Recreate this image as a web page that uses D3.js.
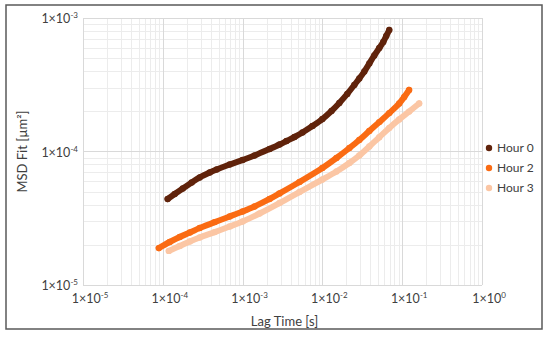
<!DOCTYPE html>
<html>
<head>
<meta charset="utf-8">
<title>MSD fit</title>
<style>
body { margin: 0; background: #fff; }
svg { display: block; font-family: Lato, 'Open Sans', sans-serif; }
.frame { fill: none; stroke: #595959; stroke-width: 1.5px; }
.major { stroke: #d9d9d9; stroke-width: 1px; shape-rendering: crispEdges; }
.minor { stroke: #ececec; stroke-width: 1px; shape-rendering: crispEdges; }
.tick { font-size: 12.5px; fill: #404040; }
.title { font-size: 13px; fill: #404040; }
.leg { font-size: 12px; fill: #404040; }
</style>
</head>
<body>
<script src="https://cdn.jsdelivr.net/npm/d3@7"></script>
<script>
'use strict';
// values
const seriesNames = ['Hour 0', 'Hour 2', 'Hour 3'];
const seriesColors = ['#60230b', '#fa6b13', '#fbc6a4'];

const hour0Lag = [1.15e-4, 1.41e-4, 1.78e-4, 2.30e-4, 2.90e-4, 3.87e-4, 4.73e-4, 6.88e-4, 1.00e-3, 1.41e-3, 2.18e-3, 2.90e-3, 3.55e-3, 4.47e-3, 5.62e-3, 7.50e-3, 1.00e-2, 1.30e-2, 1.63e-2, 2.05e-2, 2.51e-2, 2.90e-2, 3.35e-2, 3.87e-2, 4.47e-2, 5.16e-2, 5.79e-2, 6.31e-2, 6.88e-2];
const hour0Msd = [4.41e-5, 4.80e-5, 5.28e-5, 5.86e-5, 6.39e-5, 6.96e-5, 7.33e-5, 7.99e-5, 8.64e-5, 9.33e-5, 1.044e-4, 1.128e-4, 1.198e-4, 1.284e-4, 1.388e-4, 1.552e-4, 1.751e-4, 2.01e-4, 2.31e-4, 2.70e-4, 3.15e-4, 3.52e-4, 3.97e-4, 4.56e-4, 5.24e-4, 5.96e-4, 6.61e-4, 7.33e-4, 8.13e-4];

const hour2Lag = [8.91e-5, 1.22e-4, 1.63e-4, 2.18e-4, 2.90e-4, 4.47e-4, 6.88e-4, 1.00e-3, 1.41e-3, 2.18e-3, 2.90e-3, 5.16e-3, 1.00e-2, 1.50e-2, 2.18e-2, 2.90e-2, 3.87e-2, 5.16e-2, 6.88e-2, 9.17e-2, 1.06e-1, 1.22e-1];
const hour2Msd = [1.89e-5, 2.10e-5, 2.29e-5, 2.47e-5, 2.67e-5, 2.96e-5, 3.26e-5, 3.55e-5, 3.87e-5, 4.41e-5, 4.85e-5, 5.91e-5, 7.52e-5, 8.94e-5, 1.062e-4, 1.22e-4, 1.424e-4, 1.66e-4, 1.94e-4, 2.29e-4, 2.56e-4, 2.89e-4];

const hour3Lag = [1.19e-4, 1.63e-4, 2.18e-4, 2.90e-4, 4.47e-4, 6.88e-4, 1.00e-3, 1.63e-3, 2.90e-3, 5.16e-3, 1.00e-2, 1.50e-2, 2.18e-2, 2.90e-2, 3.87e-2, 5.16e-2, 6.88e-2, 9.17e-2, 1.22e-1, 1.63e-1];
const hour3Msd = [1.80e-5, 1.96e-5, 2.12e-5, 2.27e-5, 2.49e-5, 2.74e-5, 2.99e-5, 3.43e-5, 4.11e-5, 4.97e-5, 6.17e-5, 7.08e-5, 8.20e-5, 9.33e-5, 1.09e-4, 1.28e-4, 1.50e-4, 1.74e-4, 1.99e-4, 2.29e-4];

const xTicks = [1e-5, 1e-4, 1e-3, 1e-2, 1e-1, 1e0];
const yTicks = [1e-5, 1e-4, 1e-3];

const series = [
	{name: seriesNames[0], color: seriesColors[0], pts: hour0Lag.map((t, i) => [t, hour0Msd[i]])},
	{name: seriesNames[1], color: seriesColors[1], pts: hour2Lag.map((t, i) => [t, hour2Msd[i]])},
	{name: seriesNames[2], color: seriesColors[2], pts: hour3Lag.map((t, i) => [t, hour3Msd[i]])}
];

const W = 550, H = 337;
const plot = {left: 83, top: 18, right: 482, bottom: 285};

const x = d3.scaleLog().domain([1e-5, 1]).range([plot.left, plot.right]);
const y = d3.scaleLog().domain([1e-5, 1e-3]).range([plot.bottom, plot.top]);

const svg = d3.select('body').append('svg')
	.attr('width', W)
	.attr('height', H);

svg.append('rect')
	.attr('class', 'frame')
	.attr('x', 6).attr('y', 5)
	.attr('width', 536).attr('height', 324);

// minor grid (2..9 in each decade)
const xMinor = x.ticks().filter(v => xTicks.indexOf(v) < 0);
const yMinor = y.ticks().filter(v => yTicks.indexOf(v) < 0);

const grid = svg.append('g');
grid.selectAll('.xm').data(xMinor).enter().append('line')
	.attr('class', 'minor')
	.attr('x1', d => Math.round(x(d)) + 0.5).attr('x2', d => Math.round(x(d)) + 0.5)
	.attr('y1', plot.top).attr('y2', plot.bottom);
grid.selectAll('.ym').data(yMinor).enter().append('line')
	.attr('class', 'minor')
	.attr('y1', d => Math.round(y(d)) + 0.5).attr('y2', d => Math.round(y(d)) + 0.5)
	.attr('x1', plot.left).attr('x2', plot.right);
grid.selectAll('.xM').data(xTicks).enter().append('line')
	.attr('class', 'major')
	.attr('x1', d => Math.round(x(d)) + 0.5).attr('x2', d => Math.round(x(d)) + 0.5)
	.attr('y1', plot.top).attr('y2', plot.bottom);
grid.selectAll('.yM').data(yTicks).enter().append('line')
	.attr('class', 'major')
	.attr('y1', d => Math.round(y(d)) + 0.5).attr('y2', d => Math.round(y(d)) + 0.5)
	.attr('x1', plot.left).attr('x2', plot.right);

// tick label like 1×10^-3
function expLabel(sel, v) {
	const e = Math.round(Math.log10(v));
	sel.append('tspan').text('1×10');
	sel.append('tspan').attr('dy', -5).style('font-size', '8px').text(String(e));
}

svg.selectAll('.xt').data(xTicks).enter().append('text')
	.attr('class', 'tick')
	.attr('x', d => x(d) + 7)
	.attr('y', 303)
	.attr('text-anchor', 'middle')
	.each(function(d) { expLabel(d3.select(this), d); });

svg.selectAll('.yt').data(yTicks).enter().append('text')
	.attr('class', 'tick')
	.attr('x', 78)
	.attr('y', d => y(d) + 5)
	.attr('text-anchor', 'end')
	.each(function(d) { expLabel(d3.select(this), d); });

// axis titles
svg.append('text')
	.attr('class', 'title')
	.attr('x', (plot.left + plot.right) / 2 + 2)
	.attr('y', 326)
	.attr('text-anchor', 'middle')
	.text('Lag Time [s]');

svg.append('text')
	.attr('class', 'title')
	.attr('transform', 'translate(27,' + (plot.top + plot.bottom) / 2 + ') rotate(-90)')
	.attr('text-anchor', 'middle')
	.text('MSD Fit [µm²]');

// series: dense markers drawn as a thick band plus dots
const line = d3.line()
	.x(d => x(d[0]))
	.y(d => y(d[1]))
	.curve(d3.curveCatmullRom);

const marks = svg.append('g');
series.slice().reverse().forEach(s => {
	marks.append('path')
		.datum(s.pts)
		.attr('d', line)
		.attr('fill', 'none')
		.attr('stroke', s.color)
		.attr('stroke-width', 6)
		.attr('stroke-linecap', 'round')
		.attr('stroke-linejoin', 'round');
	marks.selectAll(null).data(s.pts).enter().append('circle')
		.attr('cx', d => x(d[0]))
		.attr('cy', d => y(d[1]))
		.attr('r', 3.2)
		.attr('fill', s.color);
});

// legend
const legend = svg.append('g');
series.forEach((s, i) => {
	const ly = 148 + i * 20;
	legend.append('circle')
		.attr('cx', 489).attr('cy', ly).attr('r', 3.2)
		.attr('fill', s.color);
	legend.append('text')
		.attr('class', 'leg')
		.attr('x', 497).attr('y', ly + 4)
		.text(s.name);
});
</script>
</body>
</html>
